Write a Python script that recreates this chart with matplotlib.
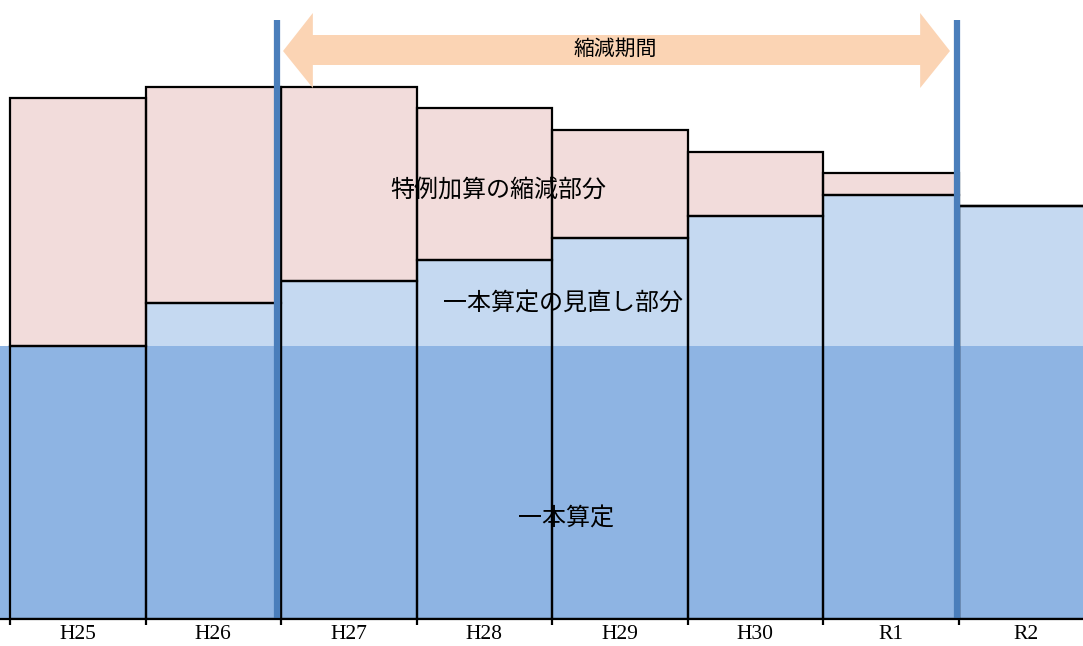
import matplotlib
matplotlib.use("Agg")
import matplotlib.pyplot as plt
from matplotlib.patches import Polygon

years = ["H25", "H26", "H27", "H28", "H29", "H30", "R1", "R2"]
base = [273, 273, 273, 273, 273, 273, 273, 273]          # 一本算定
review_top = [273, 316, 338, 359, 381, 403, 424, 413]    # 一本算定の見直し部分 (top)
total = [521, 532, 532, 511, 489, 467, 446, 413]         # 特例加算の縮減部分 (top)

pink = "#F2DCDB"
light = "#C5D9F1"
dark = "#8EB4E3"
vline = "#4A7EBB"
orange = "#FBD4B4"
jp = ["Noto Sans CJK JP", "DejaVu Sans"]

fig = plt.figure(figsize=(10.83, 6.46), dpi=100)
ax = fig.add_axes([0, 27 / 646, 1, 619 / 646])

x = list(range(len(years)))
pink_h = [t - r for t, r in zip(total, review_top)]

# fills
ax.bar(x, review_top, width=1, align="edge", color=light, linewidth=0, zorder=1)
ax.bar(x, pink_h, bottom=review_top, width=1, align="edge", color=pink, linewidth=0, zorder=1)
ax.axhspan(0, base[0], color=dark, linewidth=0, zorder=2)

# outlines
ax.bar(x, review_top, width=1, align="edge", fill=False, edgecolor="black", linewidth=1.6, zorder=3)
ax.bar(x, pink_h, bottom=review_top, width=1, align="edge", fill=False, edgecolor="black", linewidth=1.6, zorder=3)

# period lines
ax.vlines([1.97, 6.99], 0, 599, color=vline, linewidth=4.5, zorder=5)

# double arrow
xl, xr = 2.015, 6.937
hl = 0.22
pts = [(xl, 568), (xl + hl, 606), (xl + hl, 584), (xr - hl, 584), (xr - hl, 606),
       (xr, 568), (xr - hl, 531), (xr - hl, 554), (xl + hl, 554), (xl + hl, 531)]
ax.add_patch(Polygon(pts, closed=True, facecolor=orange, edgecolor="none", zorder=4))
ax.text(4.47, 570, "縮減期間", ha="center", va="center", fontsize=15, family=jp, zorder=6)

ax.text(3.6, 429, "特例加算の縮減部分", ha="center", va="center", fontsize=17.3, family=jp, zorder=6)
ax.text(4.08, 315, "一本算定の見直し部分", ha="center", va="center", fontsize=17.3, family=jp, zorder=6)
ax.text(4.1, 100, "一本算定", ha="center", va="center", fontsize=17.3, family=jp, zorder=6)

for s in ["top", "right", "left"]:
    ax.spines[s].set_visible(False)
ax.spines["bottom"].set_linewidth(1.6)
ax.spines["bottom"].set_zorder(7)
ax.set_yticks([])
ax.set_xticks(range(len(years) + 1))
ax.set_xticklabels([])
ax.set_xticks([i + 0.5 for i in x], minor=True)
ax.set_xticklabels(years, minor=True, family="Liberation Serif", fontsize=15.5)
ax.tick_params(axis="x", which="major", length=4, width=1.6, direction="out")
ax.tick_params(axis="x", which="minor", length=0, pad=4.5)

ax.set_xlim(-10 / 135.5, 1073 / 135.5)
ax.set_ylim(0, 619)

fig.savefig("out.png", dpi=100)
